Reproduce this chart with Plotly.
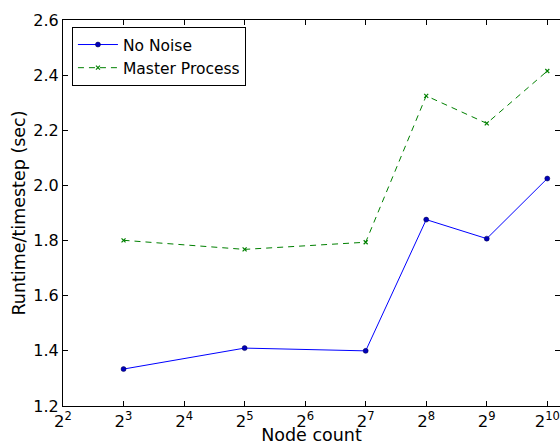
import plotly.graph_objects as go
import math

nodes = [8, 32, 128, 256, 512, 1024]
no_noise = [1.334, 1.410, 1.400, 1.876, 1.807, 2.025]
master_process = [1.801, 1.768, 1.794, 2.325, 2.225, 2.415]
tick_vals = [4, 8, 16, 32, 64, 128, 256, 512, 1024]
tick_text = ["2<sup>%d</sup>" % e for e in range(2, 11)]
y_ticks = [1.2, 1.4, 1.6, 1.8, 2.0, 2.2, 2.4, 2.6]

fig = go.Figure()
fig.add_trace(go.Scatter(
    x=nodes, y=no_noise, name="No Noise", mode="lines+markers",
    line=dict(color="#0000ff", width=1),
    marker=dict(symbol="circle", size=5, color="#0000bb", line=dict(color="#000044", width=0.5)),
))
fig.add_trace(go.Scatter(
    x=nodes, y=master_process, name="Master Process", mode="lines+markers",
    line=dict(color="#008000", width=1, dash="6px,5px"),
    marker=dict(symbol="x-thin", size=4, color="#008000", line=dict(color="#008000", width=1.2)),
))

fig.update_layout(
    width=560, height=445,
    margin=dict(l=63, r=0, t=20, b=39),
    paper_bgcolor="white", plot_bgcolor="white",
    font=dict(family="DejaVu Sans", size=16, color="black"),
    showlegend=True,
    legend=dict(
        x=0.018, y=0.982, xanchor="left", yanchor="top",
        bordercolor="black", borderwidth=1, bgcolor="white",
        font=dict(size=15.5), tracegroupgap=0, itemwidth=40,
    ),
    xaxis=dict(
        type="log", range=[math.log10(4), 10.21 * math.log10(2)],
        tickvals=tick_vals, ticktext=tick_text,
        ticks="inside", ticklen=5, tickcolor="black",
        showline=True, linecolor="black", linewidth=1, mirror="ticks",
        showgrid=False, zeroline=False, ticklabeloverflow="allow",
        title=dict(text="Node count", standoff=0, font=dict(size=17.5)),
        tickfont=dict(size=16.5),
    ),
    yaxis=dict(
        range=[1.2, 2.6], tickvals=y_ticks,
        ticktext=["%.1f" % v for v in y_ticks],
        ticks="inside", ticklen=5, tickcolor="black",
        showline=True, linecolor="black", linewidth=1, mirror="ticks",
        showgrid=False, zeroline=False,
        title=dict(text="Runtime/timestep (sec)", standoff=3, font=dict(size=17.5)),
        tickfont=dict(size=16),
    ),
)

fig.write_html("out.html")
